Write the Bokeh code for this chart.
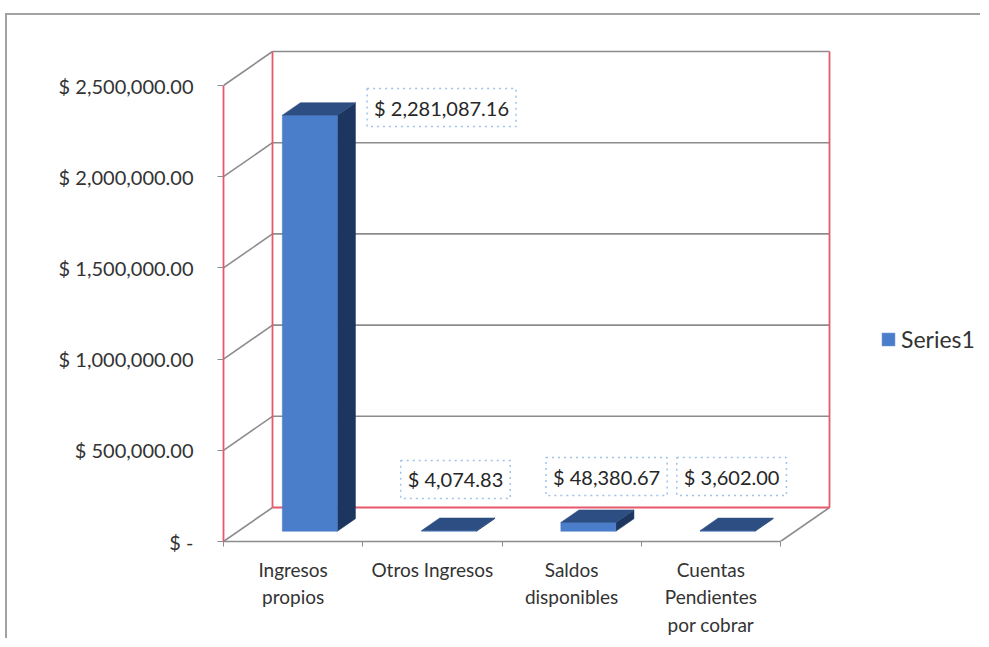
from bokeh.plotting import figure
from bokeh.models import FixedTicker, Legend, LegendItem, Range1d
from bokeh.embed import file_html
from bokeh.resources import INLINE
from bokeh.core.properties import value

# ---------------- data ----------------
categories = ["Ingresos\npropios", "Otros Ingresos", "Saldos\ndisponibles", "Cuentas\nPendientes\npor cobrar"]
values = [2281087.16, 4074.83, 48380.67, 3602.00]
y_ticks = [0, 500000, 1000000, 1500000, 2000000, 2500000]
y_tick_labels = ["$ -", "$ 500,000.00", "$ 1,000,000.00", "$ 1,500,000.00",
                 "$ 2,000,000.00", "$ 2,500,000.00"]
series_name = "Series1"

# ---------------- layout ----------------
W, H = 975, 625
B_LEFT, B_BOTTOM, B_TOP = 216, 99, 15
PX_CAT = 139.25              # pixels per category
PX_USD = 456 / 2.5e6         # pixels per dollar
x_end = (W - B_LEFT) / PX_CAT
y_end = (H - B_BOTTOM - B_TOP) / PX_USD
DX = 49 / PX_CAT             # depth offset (x)
DY = 34 / PX_USD             # depth offset (y)
F0, F1 = 0.30, 0.67          # bar front / back depth
BAR_W = 55 / PX_CAT
BAR_SHIFT = 2 / PX_CAT
n = len(categories)
y_max = y_ticks[-1]

FONT = "Lato"
GRAY = "#8c8c8c"
RED = "#e5596a"
FRONT = "#4a7dca"
TOP = "#2c4e83"
SIDE = "#1d3660"

p = figure(width=W, height=H, output_backend="svg", toolbar_location=None,
           x_range=Range1d(0, x_end), y_range=Range1d(0, y_end),
           min_border_left=B_LEFT, min_border_bottom=B_BOTTOM,
           min_border_top=B_TOP, min_border_right=0)
p.outline_line_color = None
p.xgrid.visible = False
p.ygrid.visible = False
p.background_fill_color = "white"
p.styles = {"border-left": "2px solid #a2a2a2", "border-top": "2px solid #a2a2a2",
            "margin-left": "5px", "margin-top": "13px"}

# ---------- walls ----------
gx, gy = [], []
for t in y_ticks:
    gx.append([0, DX]); gy.append([t, t + DY])          # left wall diagonal
    if t > 0:
        gx.append([DX, n + DX]); gy.append([t + DY, t + DY])  # back wall gridline
gx.append([n, n + DX]); gy.append([0, DY])              # floor right edge
p.multi_line(gx, gy, line_color=GRAY, line_width=1.6)

rx = [[DX, n + DX], [DX, DX], [n + DX, n + DX]]
ry = [[DY, DY], [DY, y_max + DY], [DY, y_max + DY]]
p.multi_line(rx, ry, line_color=RED, line_width=1.8)

# ---------- bars ----------
lefts = [i + 0.5 - BAR_W / 2 + BAR_SHIFT for i in range(n)]
rights = [l + BAR_W for l in lefts]

side_xs, side_ys, top_xs, top_ys = [], [], [], []
for l, r, v in zip(lefts, rights, values):
    side_xs.append([r + F0 * DX, r + F0 * DX, r + F1 * DX, r + F1 * DX])
    side_ys.append([F0 * DY, v + F0 * DY, v + F1 * DY, F1 * DY])
    top_xs.append([l + F0 * DX, r + F0 * DX, r + F1 * DX, l + F1 * DX])
    top_ys.append([v + F0 * DY, v + F0 * DY, v + F1 * DY, v + F1 * DY])

p.patches(side_xs, side_ys, fill_color=SIDE, line_color=SIDE, line_width=0.5)
front = p.quad(left=[l + F0 * DX for l in lefts], right=[r + F0 * DX for r in rights],
               bottom=[F0 * DY] * n, top=[v + F0 * DY for v in values],
               fill_color=FRONT, line_color=FRONT, line_width=0.5)
p.patches(top_xs, top_ys, fill_color=TOP, line_color=TOP, line_width=0.5)

# ---------- data labels ----------
LABEL_DX = [1.066, 0.166, 0.251, 0.149]
LABEL_Y = [values[0] + 0.098e6, 0.340e6, 0.356e6, 0.356e6]
p.text(x=[i + 0.5 + d for i, d in enumerate(LABEL_DX)], y=LABEL_Y,
       text=[f"$ {v:,.2f}" for v in values],
       text_font=value(FONT), text_font_size="20px", text_color="#262626",
       text_align="center", text_baseline="middle",
       background_fill_color="white", border_line_color="#9fc3ea",
       border_line_dash="dotted", border_line_width=1.5, padding=7)

# ---------- axes ----------
ya = p.yaxis[0]
ya.bounds = (0, y_max)
ya.ticker = FixedTicker(ticks=y_ticks)
ya.major_label_overrides = {t: s for t, s in zip(y_ticks, y_tick_labels)}
ya.axis_line_color = RED
ya.axis_line_width = 1.8
ya.major_tick_line_color = GRAY
ya.major_tick_in = 0
ya.major_tick_out = 6
ya.minor_tick_line_color = None
ya.major_label_standoff = 24
ya.major_label_text_font = FONT
ya.major_label_text_font_size = "20px"
ya.major_label_text_color = "#333333"

xa = p.xaxis[0]
xa.bounds = (0, n)
xa.ticker = FixedTicker(ticks=[i + 0.5 for i in range(n)], minor_ticks=list(range(n + 1)))
xa.major_label_overrides = {i + 0.5: c for i, c in enumerate(categories)}
xa.axis_line_color = GRAY
xa.axis_line_width = 1.6
xa.major_tick_line_color = None
xa.minor_tick_line_color = GRAY
xa.minor_tick_in = 0
xa.minor_tick_out = 5
xa.major_label_standoff = 10
xa.major_label_text_font = FONT
xa.major_label_text_font_size = "19px"
xa.major_label_text_color = "#333333"

# ---------- legend ----------
legend = Legend(items=[LegendItem(label=series_name, renderers=[front])],
                location=(657, 188), border_line_color=None,
                background_fill_alpha=0, padding=0, margin=0,
                glyph_width=16, glyph_height=16, label_standoff=5,
                label_text_font=FONT, label_text_font_size="23px",
                label_text_color="#333333")
p.add_layout(legend)

open("out.html", "w").write(file_html(p, INLINE))
